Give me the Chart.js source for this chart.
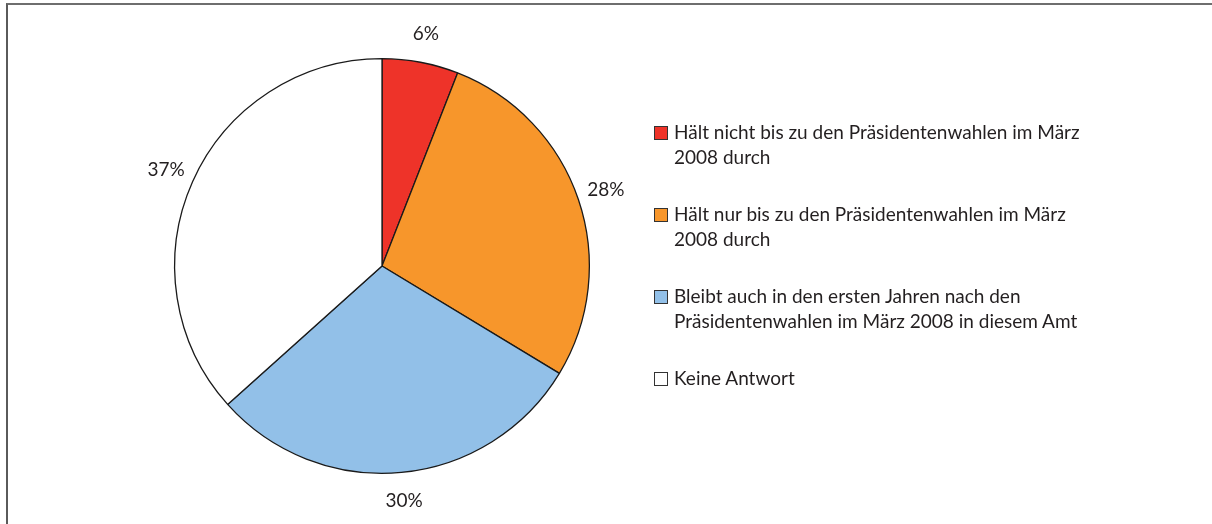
<!DOCTYPE html>
<html>
<head>
<meta charset="utf-8">
<script src="https://cdn.jsdelivr.net/npm/chart.js@4.4.0/dist/chart.umd.min.js"></script>
<style>
  body { margin: 0; background: #fff; }
  #wrap { position: relative; width: 1212px; height: 524px; overflow: hidden; }
  #frame { position: absolute; left: 6px; top: 3px; width: 1300px; height: 600px;
           border-top: 2px solid #6e6e6e; border-left: 2px solid #5a5a5a; }
  #myChart { position: absolute; left: 0; top: 0; }
  #legenda { position: absolute; left: 654px; top: 119px; font-family: Lato, sans-serif;
             font-size: 19px; color: #231f20; }
  .voce { display: flex; align-items: flex-start; height: 82px; }
  .box { width: 12px; height: 12px; border: 1px solid #333; margin-top: 7px; margin-right: 6px; flex: none; }
  .testo { line-height: 25px; }
</style>
</head>
<body>
<div id="wrap">
  <div id="frame"></div>
  <canvas id="myChart" width="1212" height="524"></canvas>
  <div id="legenda"></div>
</div>
<script>
var categorie = [
    ['Hält nicht bis zu den Präsidentenwahlen im März', '2008 durch'],
    ['Hält nur bis zu den Präsidentenwahlen im März', '2008 durch'],
    ['Bleibt auch in den ersten Jahren nach den', 'Präsidentenwahlen im März 2008 in diesem Amt'],
    ['Keine Antwort']
];
var valori = [6, 28, 30, 37];
var etichette = ['6%', '28%', '30%', '37%'];
var colori = ['#ee3329', '#f7962b', '#92c0e8', '#ffffff'];

// etichette percentuali fuori dal cerchio
var etichettePlugin = {
    id: 'etichette',
    afterDatasetsDraw: function(chart) {
        var ctx = chart.ctx;
        var archi = chart.getDatasetMeta(0).data;
        ctx.save();
        ctx.font = '19px Lato, sans-serif';
        ctx.fillStyle = '#231f20';
        ctx.textAlign = 'center';
        ctx.textBaseline = 'middle';
        for (var i = 0; i < archi.length; i++) {
            var a = archi[i];
            var medio = (a.startAngle + a.endAngle) / 2;
            var r = a.outerRadius + 29;
            ctx.fillText(etichette[i], a.x + Math.cos(medio) * r, a.y + Math.sin(medio) * r);
        }
        ctx.restore();
    }
};

function legenda() {
    var html = '';
    for (var i = 0; i < categorie.length; i++) {
        html += '<div class="voce"><div class="box" style="background:' + colori[i] + '"></div>' +
            '<div class="testo">' + categorie[i].join('<br>') + '</div></div>';
    }
    document.getElementById('legenda').innerHTML = html;
}

function grafico() {
    var ctx = document.getElementById('myChart').getContext('2d');
    var myChart = new Chart(ctx, {
        type: 'pie',
        data: {
            labels: categorie,
            datasets: [{
                data: valori,
                backgroundColor: colori,
                borderColor: '#1a1a1a',
                borderWidth: 1.3
            }]
        },
        options: {
            responsive: false,
            animation: false,
            layout: { padding: { left: 174, right: 622, top: 58, bottom: 50 } },
            plugins: {
                legend: { display: false },
                tooltip: { enabled: false }
            }
        },
        plugins: [etichettePlugin]
    });
}

legenda();
grafico();
</script>
</body>
</html>
